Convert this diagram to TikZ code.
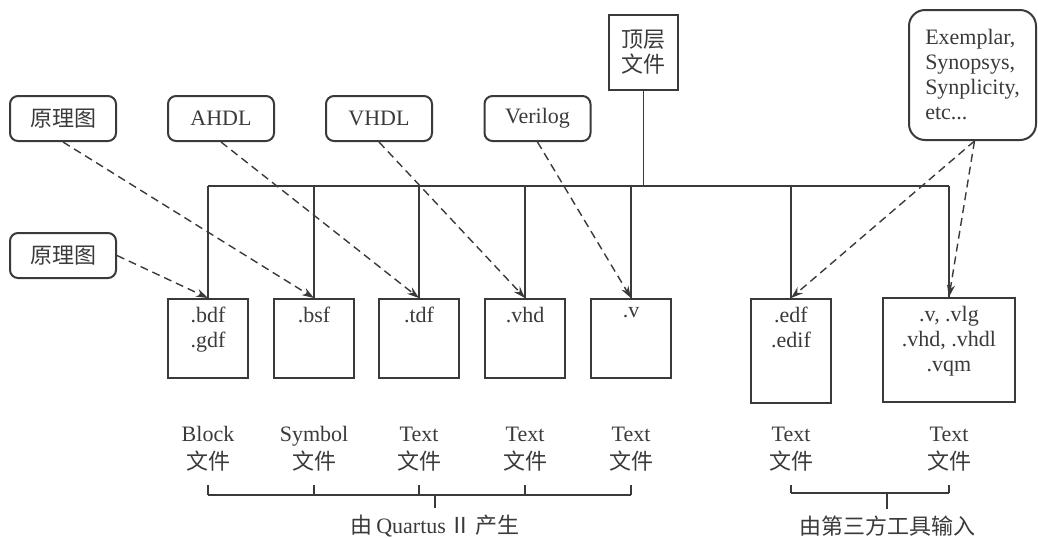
\documentclass[tikz,border=0pt]{standalone}
\usepackage{fontspec}
\setmainfont{Liberation Serif}
\newfontfamily\cjk{Noto Sans CJK SC}
\usetikzlibrary{positioning,arrows.meta}
\definecolor{ink}{HTML}{3A3A3A}
\tikzset{
  srcbox/.style={draw=ink, line width=1pt, rounded corners=4pt, minimum width=53pt, minimum height=22.5pt, inner sep=0pt},
  filebox/.style={draw=ink, line width=1pt, minimum width=40pt, minimum height=39.5pt, inner sep=0pt},
  flow/.style={draw=ink, dash pattern=on 4pt off 2.5pt, line width=0.7pt, -{Stealth[length=6pt,width=4pt]}},
  tree/.style={draw=ink, line width=0.75pt},
  kind/.style={align=center, font=\fontsize{11}{14}\selectfont}
}
\begin{document}
\begin{tikzpicture}[x=0.5pt,y=-0.5pt, font=\fontsize{11}{12.5}\selectfont, text=ink]
    \useasboundingbox (0,0) rectangle (1038,537);
    %Sources
    \node[srcbox] (sch) at (63,118.5) {\cjk 原理图};
    \node[srcbox] (ahdl) at (221,118.5) {AHDL};
    \node[srcbox] (vhdl) at (379,118.5) {VHDL};
    \node[srcbox] (verilog) at (537.5,118.5) {Verilog};
    \node[srcbox] (schb) at (63,255.5) {\cjk 原理图};
    \node[draw=ink, line width=1pt, minimum width=34.5pt, minimum height=37.5pt, inner sep=0pt, align=center, font=\fontsize{11}{12.5}\cjk] (top) at (643.5,52.5) {顶层\\文件};
    \node[draw=ink, line width=1pt, rounded corners=8pt, minimum width=63.5pt, minimum height=65pt, inner xsep=7.5pt, align=left] (tools) at (972.5,75) {Exemplar,\\Synopsys,\\Synplicity,\\etc...};
    %Files
    \foreach \n/\x in {bdf/208, bsf/314, tdf/419, vhd/525, v/631}
        \node[filebox] (\n) at (\x,338.5) {};
    \node[filebox, minimum height=52pt] (edf) at (791,351) {};
    \node[filebox, minimum width=66pt, minimum height=52pt] (vq) at (949,350) {};
    \node[below=1pt of bdf.north, align=center] (bdft) {.bdf\\.gdf};
    \node[below=1pt of bsf.north] (bsft) {.bsf};
    \node[below=1pt of tdf.north] (tdft) {.tdf};
    \node[below=1pt of vhd.north] (vhdt) {.vhd};
    \node[below=1pt of v.north] (vt) {.v};
    \node[below=1pt of edf.north, align=center] (edft) {.edf\\.edif};
    \node[below=1pt of vq.north, align=center] (vqt) {.v, .vlg\\.vhd, .vhdl\\.vqm};
    %Tree
    \coordinate (bus) at (0,186);
    \draw[tree] (top.south) -- (top.south |- bus);
    \draw[tree] (bdf.north |- bus) -- (vq.north |- bus);
    \foreach \n in {bdf,bsf,tdf,vhd,v,edf,vq}
        \draw[tree] (\n.north |- bus) -- (\n.north);
    %Inputs
    \draw[flow] (sch.south) -- (bsf.north);
    \draw[flow] (schb.east) -- (bdf.north);
    \draw[flow] (ahdl.south) -- (tdf.north);
    \draw[flow] (vhdl.south) -- (vhd.north);
    \draw[flow] (verilog.south) -- (v.north);
    \draw[flow] ([xshift=1pt]tools.south) -- (edf.north);
    \draw[flow] ([xshift=1pt]tools.south) -- (vq.north);
    %Kinds
    \foreach \n/\t in {bdf/Block, bsf/Symbol, tdf/Text, vhd/Text, v/Text, edf/Text, vq/Text}
        \node[kind] (k\n) at (\n |- 0,449) {\t\\{\cjk 文件}};
    %Brackets
    \coordinate (qbar) at (0,495);
    \coordinate (tbar) at (0,493);
    \node (quartus) at (435,526) {{\cjk 由}\,Quartus\,{\cjk Ⅱ}\,{\cjk 产生}};
    \node (third) at (887,526) {\cjk 由第三方工具输入};
    \draw[tree] (kbdf |- qbar) -- (kv |- qbar);
    \foreach \n in {bdf,bsf,tdf,vhd,v}
        \draw[tree] (k\n |- qbar) -- ++(0,-10);
    \draw[tree] (quartus.north |- qbar) -- (quartus.north);
    \draw[tree] (kedf |- tbar) -- (kvq |- tbar);
    \foreach \n in {edf,vq}
        \draw[tree] (k\n |- tbar) -- ++(0,-8);
    \draw[tree] (third.north |- tbar) -- (third.north);
\end{tikzpicture}
\end{document}
